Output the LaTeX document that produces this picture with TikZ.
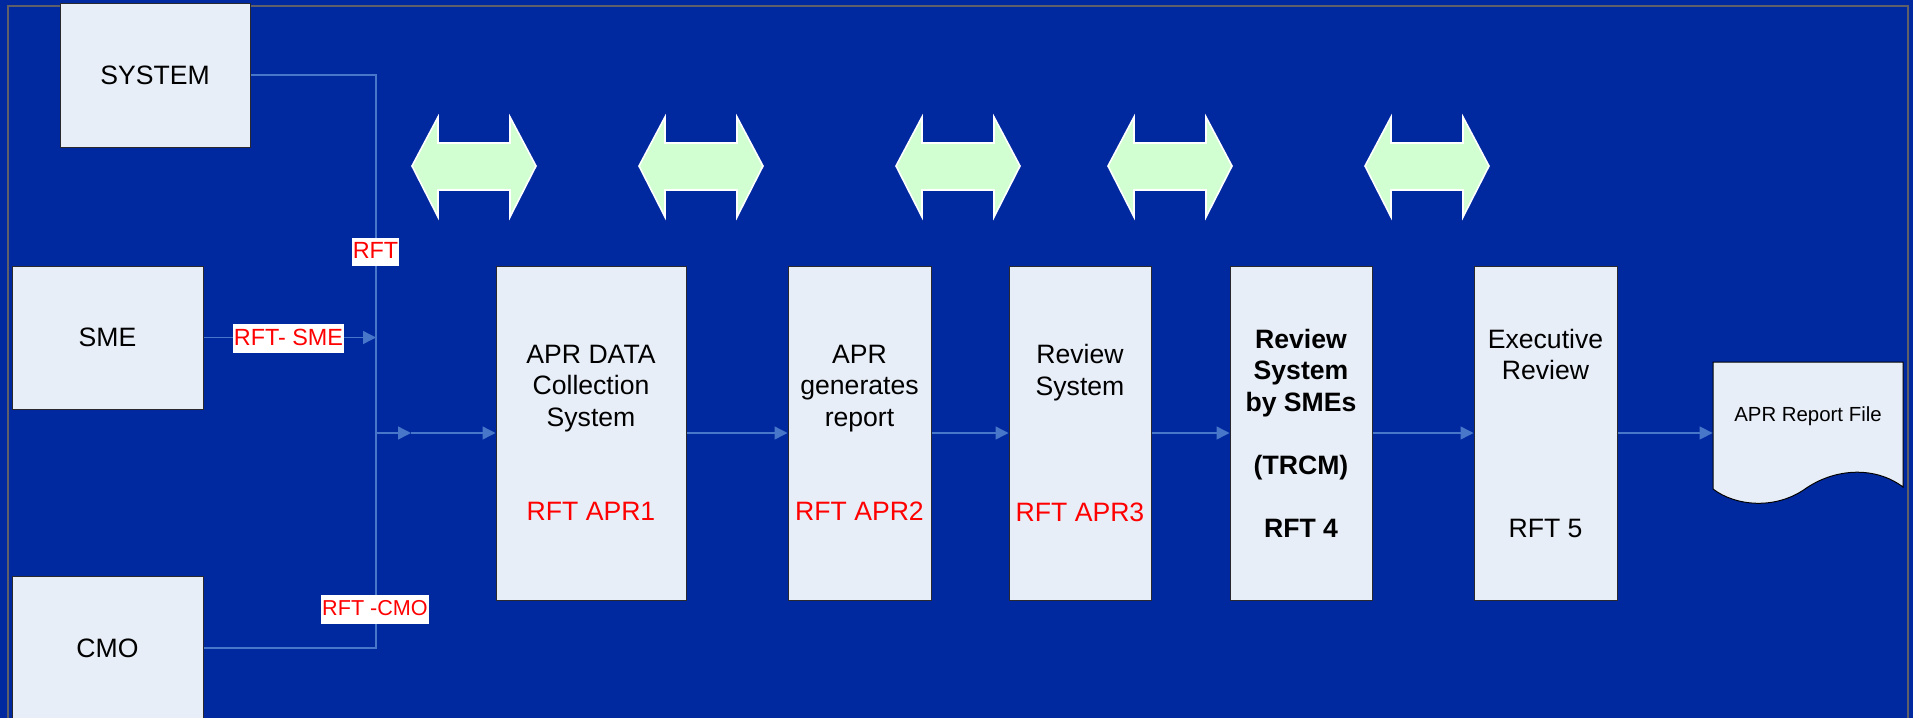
\documentclass[tikz,border=0pt]{standalone}
\usepackage{fontspec}
\setmainfont{Liberation Sans}
\usetikzlibrary{arrows.meta}
\definecolor{bgblue}{RGB}{0,41,160}
\definecolor{boxfill}{RGB}{232,238,248}
\definecolor{boxline}{RGB}{40,40,45}
\definecolor{connblue}{RGB}{72,118,200}
\definecolor{arrowgreen}{RGB}{210,255,210}
\definecolor{framegray}{RGB}{95,95,105}
\definecolor{rftred}{RGB}{255,0,0}
\tikzset{
  box/.style={draw=boxline, line width=0.5pt, fill=boxfill, inner sep=0pt, align=center,
    font=\fontsize{13.3}{15.75}\selectfont},
  line/.style={draw=connblue, line width=0.7pt},
  conn/.style={line, -{Triangle[length=6.5pt,width=6.5pt]}},
  rftlabel/.style={fill=white, text=rftred, inner xsep=0.6pt, inner ysep=0pt,
    text height=10.3pt, text depth=3.9pt, anchor=base, font=\fontsize{11.7}{13}\selectfont},
  dblarrow/.style={fill=arrowgreen, draw=white, line width=0.8pt, line join=miter},
  docshape/.style={fill=boxfill, draw=black, line width=0.5pt}
}
\begin{document}
\begin{tikzpicture}[x=0.5pt,y=-0.5pt]
\useasboundingbox (0,0) rectangle (1913,718);
\fill[bgblue] (0,0) rectangle (1913,718);
% frame
\draw[framegray, line width=1.4pt] (8,740) -- (8,6) -- (1908,6) -- (1908,740);

% double arrows
\foreach \x in {412,639,896,1108,1365}{
  \filldraw[dblarrow] (\x,166) -- ({\x+26},117) -- ({\x+26},143) -- ({\x+98},143) -- ({\x+98},117)
    -- ({\x+124},166) -- ({\x+98},217) -- ({\x+98},190) -- ({\x+26},190) -- ({\x+26},217) -- cycle;
}

% source boxes
\node[box, minimum width=95pt, minimum height=72pt] (sys) at (155,75) {SYSTEM};
\node[box, minimum width=95.5pt, minimum height=71.5pt] (sme) at (107.5,337.5) {SME};
\node[box, minimum width=95.5pt, minimum height=72pt] (cmo) at (107.5,648) {CMO};

% process boxes
\node[box, minimum width=95pt, minimum height=167pt] (apr1) at (591,433)
  {APR DATA\\Collection\\System\\~\\~\\\textcolor{rftred}{RFT APR1}};
\node[box, minimum width=71.5pt, minimum height=167pt] (apr2) at (859.5,433)
  {APR\\generates\\report\\~\\~\\\textcolor{rftred}{RFT APR2}};
\node[box, minimum width=71pt, minimum height=167pt] (apr3) at (1080,433)
  {Review\\System\\~\\~\\~\\\textcolor{rftred}{RFT APR3}};
\node[box, minimum width=71pt, minimum height=167pt, font=\fontsize{13.3}{15.75}\selectfont\bfseries] (sme4) at (1301,433)
  {Review\\System\\by SMEs\\~\\(TRCM)\\~\\RFT 4};
\node[box, minimum width=71.5pt, minimum height=167pt] (exec) at (1545.5,433)
  {Executive\\Review\\~\\~\\~\\~\\RFT 5};

% document shape
\filldraw[docshape] (1713,489) -- (1713,362) -- (1903,362) -- (1903,487)
  .. controls (1875,466) and (1835,468) .. (1805,489)
  .. controls (1775,510) and (1735,506) .. (1713,489) -- cycle;
\node[inner sep=0pt, minimum width=95pt, minimum height=54pt, font=\fontsize{10.2}{12}\selectfont] (doc) at (1808,416) {APR Report File};

% connectors
\coordinate (jx) at (376,0);
\coordinate (jm) at (376,433);
\coordinate (mid) at (411,433);
\draw[line] (sys.east) -| (cmo.east -| jx) -- (cmo.east);
\draw[conn] (sme.east) -- (sme.east -| jx);
\draw[conn] (jm) -- (mid);
\draw[conn] (mid) -- (apr1.west);
\draw[conn] (apr1.east) -- (apr2.west);
\draw[conn] (apr2.east) -- (apr3.west);
\draw[conn] (apr3.east) -- (sme4.west);
\draw[conn] (sme4.east) -- (exec.west);
\draw[conn] (exec.east) -- (exec.east -| doc.west);

% labels
\node[rftlabel] (lrft) at (375.5,258.3) {RFT};
\node[rftlabel] (lsme) at (288.5,345) {RFT- SME};
\node[rftlabel, font=\fontsize{10.8}{13}\selectfont] (lcmo) at (375,615.7) {RFT -CMO};
\end{tikzpicture}
\end{document}
